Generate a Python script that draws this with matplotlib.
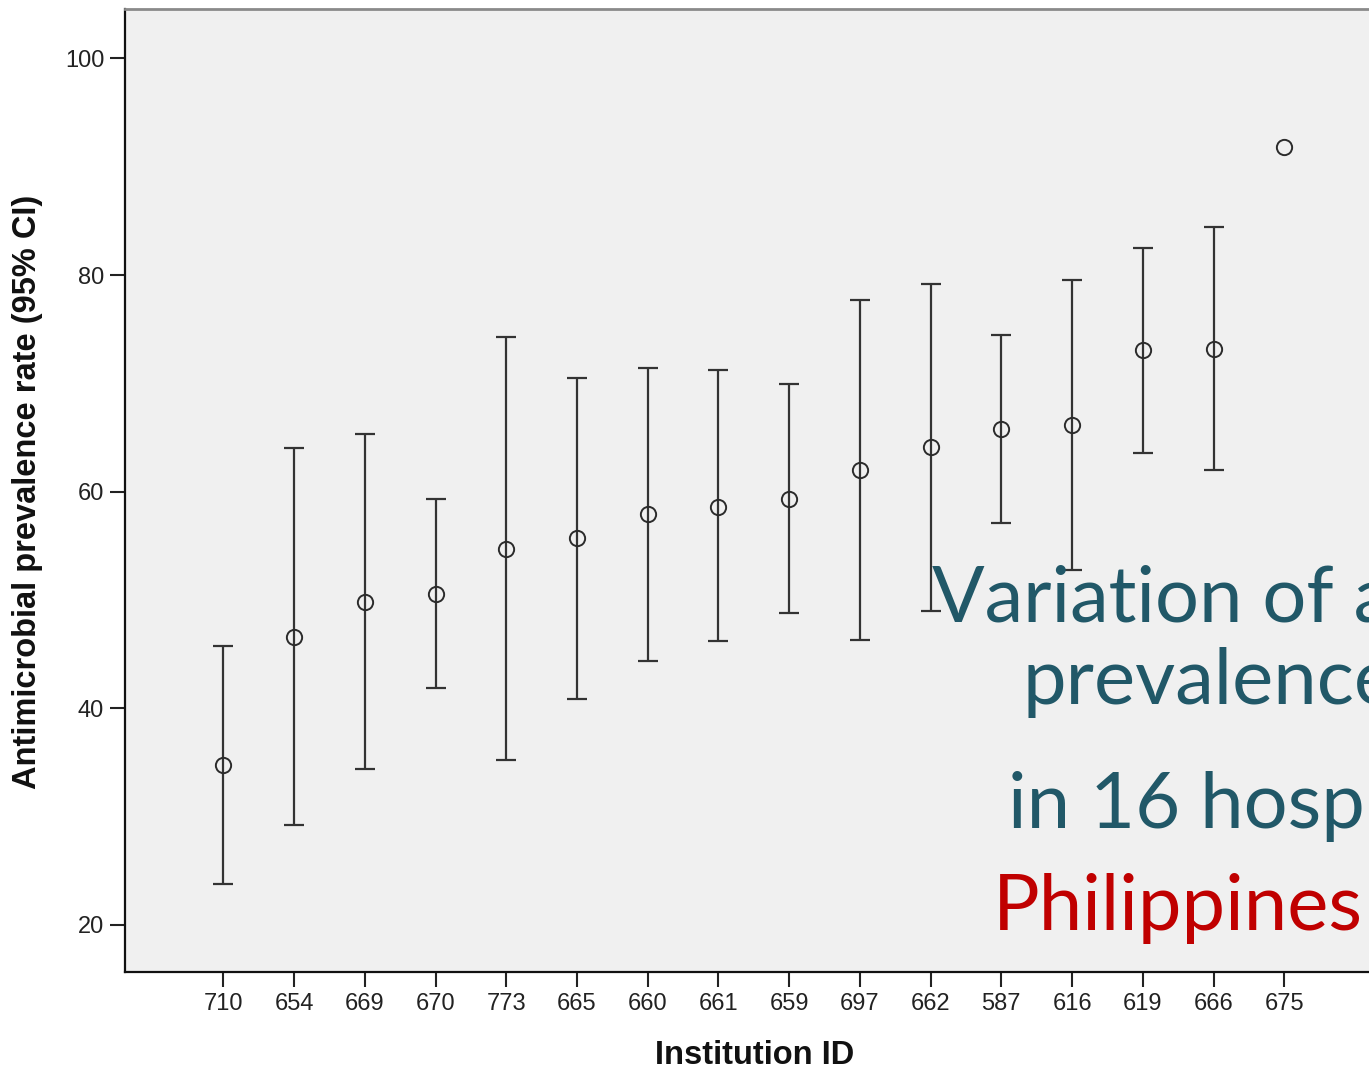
import numpy as np
import matplotlib
matplotlib.use("Agg")
import matplotlib.pyplot as plt

# institution IDs in plotted order
institutions = ["710", "654", "669", "670", "773", "665", "660", "661",
                "659", "697", "662", "587", "616", "619", "666", "675"]
# prevalence rate (%) with 95% CI bounds (675 has no interval)
rate = [34.8, 46.6, 49.8, 50.6, 54.7, 55.7, 57.9, 58.6,
        59.3, 62.0, 64.1, 65.8, 66.2, 73.1, 73.2, 91.8]
ci_low = [23.8, 29.2, 34.4, 41.9, 35.2, 40.9, 44.4, 46.2,
          48.8, 46.3, 49.0, 57.1, 52.8, 63.6, 62.0, np.nan]
ci_high = [45.8, 64.0, 65.3, 59.3, 74.3, 70.5, 71.4, 71.2,
           69.9, 77.7, 79.2, 74.5, 79.5, 82.5, 84.4, np.nan]
yticks = [20, 40, 60, 80, 100]

W, H = 1369, 1068
fig = plt.figure(figsize=(W / 100, H / 100), dpi=100)
fig.patch.set_facecolor("white")

# axes runs past the right edge of the picture, as in the cropped original
ax = fig.add_axes([125 / W, (H - 972) / H, (1400 - 125) / W, (972 - 9) / H])
ax.set_facecolor("#F0F0F0")

x = np.arange(len(institutions))
rate_a = np.array(rate)
lo = np.array(ci_low)
hi = np.array(ci_high)
has_ci = ~np.isnan(lo)

ax.errorbar(x[has_ci], rate_a[has_ci],
            yerr=[rate_a[has_ci] - lo[has_ci], hi[has_ci] - rate_a[has_ci]],
            fmt="none", ecolor="#333333", elinewidth=1.6, capsize=7, capthick=1.6, zorder=2)
ax.plot(x, rate_a, "o", ms=11, mfc="none", mec="#2b2b2b", mew=1.4, zorder=3)

ax.set_xlim(-1.39, (1400 - 223) / 70.75)
ax.set_ylim(15.66, 104.56)
ax.set_xticks(x)
ax.set_xticklabels(institutions)
ax.set_yticks(yticks)

ax.tick_params(axis="both", direction="out", length=11, width=1.5, color="#222222",
               labelsize=17, labelcolor="#222222", pad=4)
for lab in ax.get_xticklabels() + ax.get_yticklabels():
    lab.set_family("Liberation Sans")

ax.spines["right"].set_visible(False)
ax.spines["top"].set_color("#8a8a8a")
ax.spines["top"].set_linewidth(2)
for s in ("left", "bottom"):
    ax.spines[s].set_color("#111111")
    ax.spines[s].set_linewidth(1.6)

fig.text(28 / W, 1 - 492 / H, "Antimicrobial prevalence rate (95% CI)", rotation=90,
         ha="center", va="center", fontsize=23.5, fontweight="bold",
         family="Liberation Sans", color="#111111")
fig.text(755 / W, 1 - 1055 / H, "Institution ID", ha="center", va="center",
         fontsize=23.5, fontweight="bold", family="Liberation Sans", color="#111111")

# slide title overlaid on the chart (cut off at the right edge, as in the original)
teal = "#215868"
title_size = 56
fig.text(932 / W, 1 - 622 / H, "Variation of a", color=teal, fontsize=title_size,
         family="Lato", ha="left", va="baseline")
fig.text(1022 / W, 1 - 704 / H, "prevalence", color=teal, fontsize=title_size,
         family="Lato", ha="left", va="baseline")
fig.text(1008 / W, 1 - 828 / H, "in 16 hosp", color=teal, fontsize=title_size,
         family="Lato", ha="left", va="baseline")
fig.text(993 / W, 1 - 930 / H, "Philippines", color="#C00000", fontsize=title_size,
         family="Lato", ha="left", va="baseline")

fig.savefig("out.png", dpi=100, facecolor="white")
